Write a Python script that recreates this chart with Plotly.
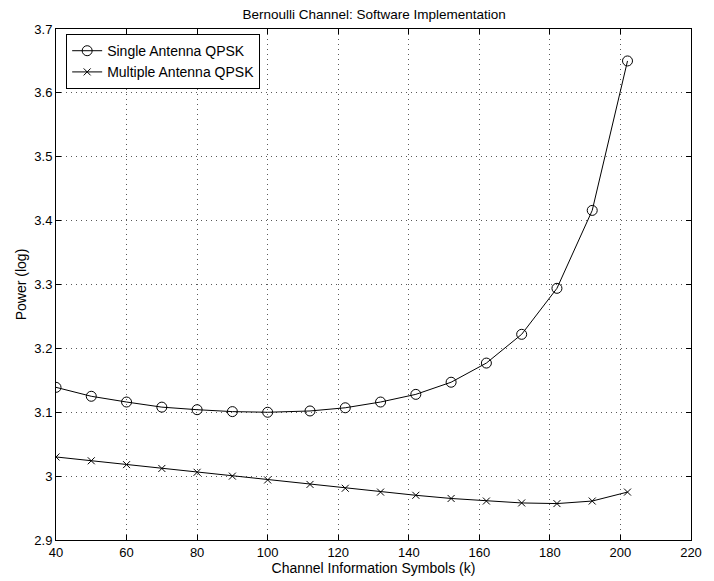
import plotly.graph_objects as go

x_single = [40, 50, 60, 70, 80, 90, 100, 112, 122, 132, 142, 152, 162, 172, 182, 192, 202]
y_single = [3.139, 3.125, 3.116, 3.108, 3.104, 3.101, 3.100, 3.102, 3.107, 3.116, 3.128,
            3.147, 3.177, 3.222, 3.294, 3.416, 3.650]
x_multi = [40, 50, 60, 70, 80, 90, 100, 112, 122, 132, 142, 152, 162, 172, 182, 192, 202]
y_multi = [3.030, 3.024, 3.018, 3.012, 3.006, 3.000, 2.994, 2.987, 2.981, 2.975, 2.970,
           2.965, 2.961, 2.958, 2.957, 2.961, 2.975]

title_text = "Bernoulli Channel: Software Implementation"
x_title = "Channel Information Symbols (k)"
y_title = "Power (log)"

font_family = "Liberation Sans, Arial, Helvetica, sans-serif"

fig = go.Figure()
fig.add_trace(go.Scatter(
    x=x_single, y=y_single, mode="lines+markers", name="Single Antenna QPSK",
    line=dict(color="black", width=1),
    marker=dict(symbol="circle-open", size=10, color="black", line=dict(width=1)),
))
fig.add_trace(go.Scatter(
    x=x_multi, y=y_multi, mode="lines+markers", name="Multiple Antenna QPSK",
    line=dict(color="black", width=1),
    marker=dict(symbol="x-thin-open", size=7, color="black", line=dict(width=1, color="black")),
))

axis_common = dict(
    showline=True, linecolor="black", linewidth=1, mirror="ticks",
    ticks="inside", ticklen=5, tickcolor="black", tickwidth=1,
    showgrid=True, gridcolor="rgba(0,0,0,0.65)", griddash="1px,4px", gridwidth=1,
    zeroline=False, tickfont=dict(size=13, color="black", family=font_family),
)

fig.update_layout(
    width=714, height=581,
    margin=dict(l=56, r=15, t=29, b=41),
    paper_bgcolor="white", plot_bgcolor="white",
    font=dict(family=font_family, color="black", size=13),
    title=dict(text=title_text, x=0.524, xanchor="center", y=0.976, yanchor="middle",
               font=dict(size=13.5, color="black")),
    xaxis=dict(range=[40, 220], tickvals=list(range(40, 221, 20)),
               title=dict(text=x_title, font=dict(size=14), standoff=0), **axis_common),
    yaxis=dict(range=[2.9, 3.7], tickvals=[2.9, 3.0, 3.1, 3.2, 3.3, 3.4, 3.5, 3.6, 3.7],
               ticktext=["2.9", "3", "3.1", "3.2", "3.3", "3.4", "3.5", "3.6", "3.7"],
               title=dict(text=y_title, font=dict(size=14), standoff=4), **axis_common),
    legend=dict(x=0.016, y=0.99, xanchor="left", yanchor="top",
                bordercolor="black", borderwidth=1, bgcolor="white",
                font=dict(size=14), tracegroupgap=0, itemwidth=30),
    showlegend=True,
)

fig.write_html("out.html")
